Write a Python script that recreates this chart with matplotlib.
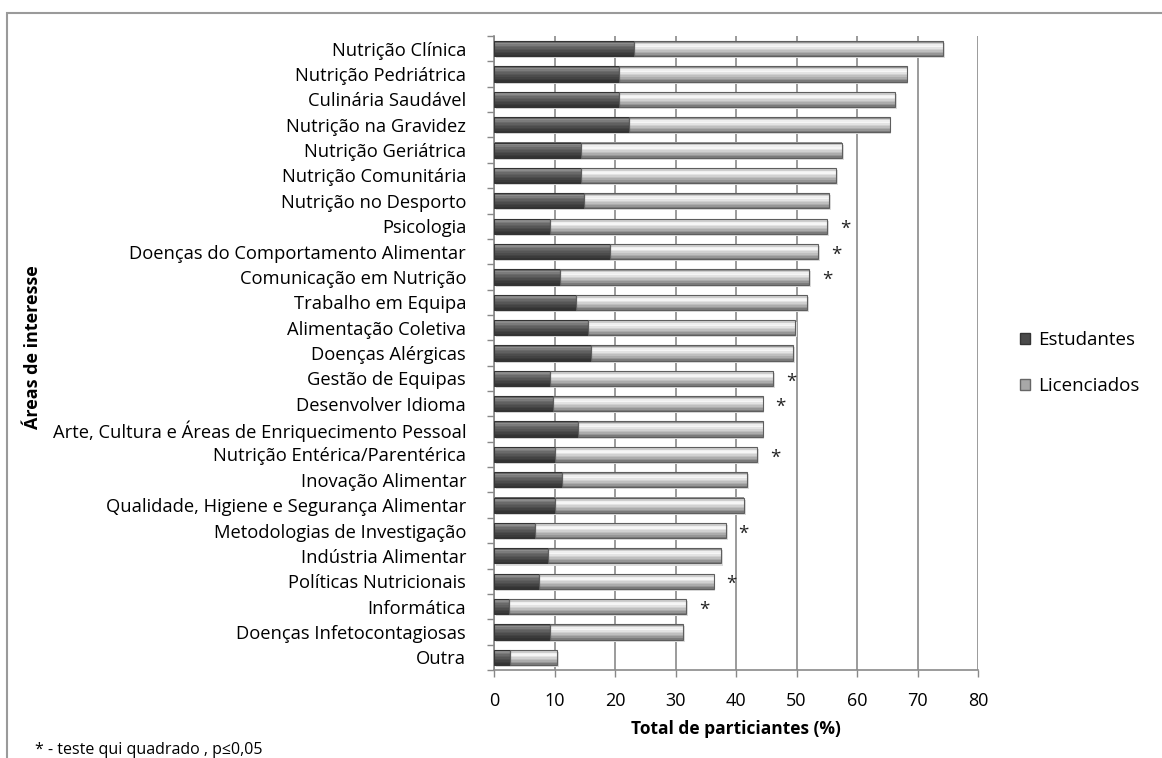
#import
import matplotlib.pyplot as plt
import matplotlib.patches as mpatches
from matplotlib.colors import LinearSegmentedColormap
import numpy as np

#-------------------------------------------------------------------------------

#data
areas = ["Nutrição Clínica", "Nutrição Pedriátrica", "Culinária Saudável",
         "Nutrição na Gravidez", "Nutrição Geriátrica", "Nutrição Comunitária",
         "Nutrição no Desporto", "Psicologia",
         "Doenças do Comportamento Alimentar", "Comunicação em Nutrição",
         "Trabalho em Equipa", "Alimentação Coletiva", "Doenças Alérgicas",
         "Gestão de Equipas", "Desenvolver Idioma",
         "Arte, Cultura e Áreas de Enriquecimento Pessoal",
         "Nutrição Entérica/Parentérica", "Inovação Alimentar",
         "Qualidade, Higiene e Segurança Alimentar",
         "Metodologias de Investigação", "Indústria Alimentar",
         "Políticas Nutricionais", "Informática",
         "Doenças Infetocontagiosas", "Outra"]

estudantes = [23.1, 20.7, 20.7, 22.3, 14.4, 14.4, 14.9, 9.2, 19.2, 10.9,
              13.6, 15.5, 16.1, 9.2, 9.8, 13.9, 10.0, 11.2, 10.0, 6.7,
              9.0, 7.4, 2.4, 9.2, 2.6]

total = [74.2, 68.2, 66.3, 65.4, 57.5, 56.6, 55.4, 55.1, 53.6, 52.1,
         51.8, 49.7, 49.4, 46.1, 44.4, 44.4, 43.5, 41.8, 41.3, 38.3,
         37.5, 36.3, 31.7, 31.3, 10.4]

significativo = [0, 0, 0, 0, 0, 0, 0, 1, 1, 1,
                 0, 0, 0, 1, 1, 0, 1, 0, 0, 1,
                 0, 1, 1, 0, 0]

licenciados = [t - e for t, e in zip(total, estudantes)]

xticks = [0, 10, 20, 30, 40, 50, 60, 70, 80]

#-------------------------------------------------------------------------------

#style
plt.rcParams['font.family'] = ['Open Sans', 'DejaVu Sans']
plt.rcParams['font.size'] = 12.5

dark_grad = LinearSegmentedColormap.from_list("d", [
    (0.0, "#5a5a5a"), (0.15, "#8c8c8c"), (0.35, "#6a6a6a"),
    (0.7, "#474747"), (1.0, "#303030")])
light_grad = LinearSegmentedColormap.from_list("l", [
    (0.0, "#787878"), (0.12, "#c4c4c4"), (0.3, "#ffffff"),
    (0.5, "#dadada"), (0.8, "#a4a4a4"), (1.0, "#6e6e6e")])

nstrip = 10

#-------------------------------------------------------------------------------

#figure
fig = plt.figure(figsize=(11.62, 7.58), dpi=100)
ax = fig.add_axes([494 / 1162, 1 - 670 / 758, (978 - 494) / 1162, (670 - 36) / 758])

y = np.arange(len(areas))
h = 0.6

#shadow
ax.barh(y + 0.08, total, height=h, left=0.3, color="#dcdcdc", zorder=1)

#gradient strips
for k in range(nstrip):
    pos = (k + 0.5) / nstrip
    yk = y - h / 2 + pos * h
    ax.barh(yk, estudantes, height=h / nstrip + 0.005, color=dark_grad(pos),
            linewidth=0, zorder=2)
    ax.barh(yk, licenciados, left=estudantes, height=h / nstrip + 0.005,
            color=light_grad(pos), linewidth=0, zorder=2)

#outlines
ax.barh(y, estudantes, height=h, facecolor="none", edgecolor="#333333",
        linewidth=0.8, zorder=3)
ax.barh(y, licenciados, left=estudantes, height=h, facecolor="none",
        edgecolor="#5e5e5e", linewidth=0.8, zorder=3)

for i in range(len(areas)):
    if significativo[i]:
        ax.text(total[i] + 3, y[i] + 0.12, "*", ha='center', va='center',
                fontsize=13.5, color="#222222")

ax.set_xlim(0, 80)
ax.set_ylim(len(areas) - 0.5, -0.5)
ax.set_xticks(xticks)
ax.set_yticks(y)
ax.set_yticklabels(areas, fontsize=13.2)
ax.set_yticks(np.arange(-0.5, len(areas), 1), minor=True)
ax.tick_params(axis='y', which='major', length=0, pad=20)
ax.tick_params(axis='y', which='minor', length=5, color="#888888", width=1)
ax.tick_params(axis='x', length=5, color="#888888", width=1, pad=11, labelsize=13)
ax.xaxis.grid(True, color="#8a8a8a", linewidth=1.2, zorder=0)
ax.set_axisbelow(True)

for s in ['top', 'right']:
    ax.spines[s].set_visible(False)
for s in ['left', 'bottom']:
    ax.spines[s].set_color("#8a8a8a")
    ax.spines[s].set_linewidth(1.2)

ax.set_xlabel("Total de particiantes (%)", fontweight='bold', labelpad=7)
fig.text(33 / 1162, 1 - 347 / 758, "Áreas de interesse", rotation=90,
         fontweight='bold', ha='center', va='center', fontsize=13)

#legend
handles = [mpatches.Patch(facecolor="#4a4a4a", edgecolor="#333333", label="Estudantes"),
           mpatches.Patch(facecolor="#a8a8a8", edgecolor="#666666", label="Licenciados")]
fig.legend(handles=handles, loc='center left',
           bbox_to_anchor=(1003 / 1162, 1 - 363 / 758), frameon=False,
           handlelength=0.55, handleheight=0.55, handletextpad=0.45,
           labelspacing=1.5, fontsize=13.5)

fig.text(35 / 1162, 1 - 750 / 758, "* - teste qui quadrado , p≤0,05",
         fontsize=11.5, ha='left', va='center')

#border
fig.patches.append(mpatches.Rectangle((7 / 1162, -0.05), 1.2, 1 - 13 / 758 + 0.05,
                                      transform=fig.transFigure, fill=False,
                                      edgecolor="#9a9a9a", linewidth=1.5))

plt.savefig('out.png', dpi=100)
